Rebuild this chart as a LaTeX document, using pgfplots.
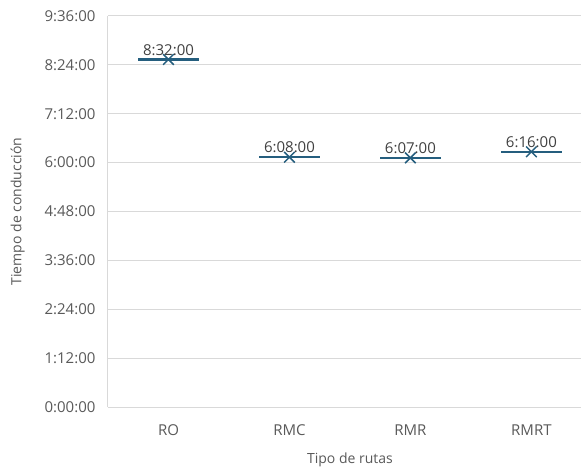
\documentclass[border=0pt]{standalone}
\usepackage{pgfplots}
\pgfplotsset{compat=1.18}
\usepackage{fontspec}
\setmainfont{Open Sans}
\definecolor{boxc}{RGB}{37,94,126}
\definecolor{gridc}{RGB}{217,217,217}
\definecolor{tickc}{RGB}{89,89,89}
\definecolor{labc}{RGB}{64,64,64}
\begin{document}
\begin{tikzpicture}
\begin{axis}[
 name=ax,
 scale only axis, width=473pt, height=391pt,
 xmin=-0.5, xmax=3.41, ymin=0, ymax=576,
 axis x line=bottom, axis y line=left,
 axis line style={gridc, line width=1pt, -},
 xtick={0,1,2,3}, xticklabels={RO,RMC,RMR,RMRT},
 ytick={0,72,...,576},
 yticklabels={0:00:00,1:12:00,2:24:00,3:36:00,4:48:00,6:00:00,7:12:00,8:24:00,9:36:00},
 ymajorgrids, grid style={gridc, line width=1pt},
 major tick length=0,
 ticklabel style={font=\fontsize{15}{18}\selectfont, text=tickc},
 yticklabel style={xshift=-9pt},
 xticklabel style={yshift=-14pt},
 xlabel={Tipo de rutas}, ylabel={Tiempo de conducción},
 label style={font=\fontsize{14}{17}\selectfont, text=tickc},
 xlabel style={at={(axis cs:1.5,0)}, anchor=north, inner sep=0pt, yshift=-46pt},
 ylabel style={at={(axis description cs:0,0.5)}, anchor=south, inner sep=0pt, yshift=83pt},
 clip=false,
]
\addplot[only marks, mark=-, mark size=30.5pt, mark options={line width=2.5pt, draw=boxc}]
 coordinates {(0,512) (1,368) (2,367) (3,376)};
\addplot[only marks, mark=x, mark size=7.5pt, mark options={line width=1.5pt, draw=boxc},
 nodes near coords, point meta=explicit symbolic,
 nodes near coords style={anchor=south, font=\fontsize{15}{18}\selectfont, text=labc}]
 coordinates {(0,512) [8:32:00] (1,368) [6:08:00] (2,367) [6:07:00] (3,376) [6:16:00]};
\end{axis}
\pgfresetboundingbox
\path[use as bounding box] ([shift={(-108pt,-67pt)}]ax.south west) rectangle ([shift={(0pt,16pt)}]ax.north east);
\end{tikzpicture}
\end{document}
